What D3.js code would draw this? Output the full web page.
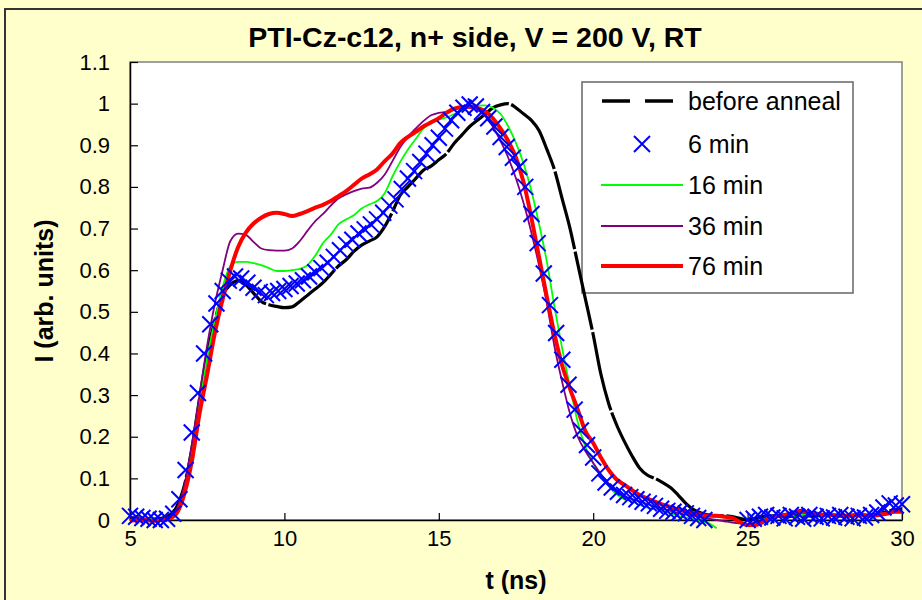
<!DOCTYPE html>
<html>
<head>
<meta charset="utf-8">
<script src="https://d3js.org/d3.v7.min.js"></script>
<style>
  body { margin: 0; background: #ffffcc; }
  svg { display: block; font-family: Arial, "Liberation Sans", sans-serif; }
</style>
</head>
<body>
<div class="chart"></div>
<script>
// time axis (ns) shared by the four line series
const lineTimes = [
  5, 5.25, 5.5, 5.75, 6, 6.25, 6.5, 6.75, 7, 7.25, 7.5, 7.75, 8, 8.25, 8.5, 8.75, 9, 9.25, 9.5, 9.75,
  10, 10.25, 10.5, 10.75, 11, 11.25, 11.5, 11.75, 12, 12.25, 12.5, 12.75, 13, 13.25, 13.5, 13.75, 14, 14.25, 14.5, 14.75,
  15, 15.25, 15.5, 15.75, 16, 16.25, 16.5, 16.75, 17, 17.25, 17.5, 17.75, 18, 18.25, 18.5, 18.75, 19, 19.25, 19.5, 19.75,
  20, 20.25, 20.5, 20.75, 21, 21.25, 21.5, 21.75, 22, 22.25, 22.5, 22.75, 23, 23.25, 23.5, 23.75, 24, 24.25, 24.5, 24.75,
  25, 25.25, 25.5, 25.75, 26, 26.25, 26.5, 26.75, 27, 27.25, 27.5, 27.75, 28, 28.25, 28.5, 28.75, 29, 29.25, 29.5, 29.75, 30
];

const beforeAnneal = [
  0.005, 0.005, 0.003, 0.002, 0.004, 0.01, 0.03, 0.08, 0.17, 0.29, 0.40, 0.48, 0.54, 0.565, 0.575, 0.565, 0.545, 0.525, 0.517, 0.513,
  0.51, 0.512, 0.525, 0.54, 0.555, 0.57, 0.59, 0.61, 0.625, 0.645, 0.66, 0.67, 0.68, 0.705, 0.74, 0.78, 0.80, 0.82, 0.84, 0.85,
  0.865, 0.88, 0.905, 0.925, 0.945, 0.96, 0.975, 0.99, 0.997, 1.0, 0.99, 0.975, 0.96, 0.935, 0.89, 0.84, 0.77, 0.70, 0.615, 0.53,
  0.445, 0.35, 0.28, 0.23, 0.19, 0.155, 0.125, 0.108, 0.1, 0.09, 0.078, 0.06, 0.04, 0.025, 0.017, 0.012, 0.01, 0.01, 0.008, 0.004,
  0.0, 0.004, 0.008, 0.01, 0.01, 0.008, 0.01, 0.012, 0.01, 0.01, 0.012, 0.012, 0.01, 0.01, 0.012, 0.01, 0.012, 0.015, 0.02, 0.025, 0.027
];

const min16 = [
  0.0, 0.003, 0.005, 0.003, 0.0, 0.005, 0.02, 0.07, 0.16, 0.28, 0.39, 0.48, 0.56, 0.61, 0.62, 0.62, 0.617, 0.612, 0.605, 0.598,
  0.598, 0.6, 0.603, 0.612, 0.635, 0.665, 0.685, 0.71, 0.722, 0.732, 0.748, 0.758, 0.766, 0.785, 0.825, 0.86, 0.89, 0.915, 0.94, 0.955,
  0.962, 0.967, 0.975, 0.985, 0.993, 0.995, 0.996, 0.99, 0.975, 0.945, 0.905, 0.855, 0.79, 0.71, 0.62, 0.51, 0.41, 0.32, 0.235, 0.175,
  0.137, 0.105, 0.082, 0.062, 0.05, 0.045, 0.036, 0.03, 0.026, 0.022, 0.016, 0.01, 0.006, 0.002, -0.003, -0.008, -0.02, null, null, null,
  -0.015, -0.01, 0.0, 0.008, 0.01, 0.012, 0.01, 0.012, 0.014, 0.012, 0.01, 0.012, 0.012, 0.01, 0.012, 0.014, 0.012, 0.015, 0.016, 0.018, 0.02
];

const min36 = [
  0.0, 0.002, 0.0, 0.0, 0.003, 0.008, 0.025, 0.08, 0.18, 0.30, 0.42, 0.52, 0.60, 0.67, 0.688, 0.685, 0.668, 0.652, 0.648, 0.647,
  0.647, 0.652, 0.67, 0.695, 0.718, 0.735, 0.755, 0.772, 0.782, 0.79, 0.796, 0.798, 0.81, 0.83, 0.862, 0.895, 0.92, 0.94, 0.958, 0.972,
  0.978, 0.98, 0.985, 0.99, 0.99, 0.985, 0.97, 0.945, 0.91, 0.87, 0.82, 0.76, 0.69, 0.61, 0.52, 0.415, 0.33, 0.255, 0.2, 0.165,
  0.137, 0.11, 0.088, 0.07, 0.058, 0.05, 0.045, 0.038, 0.032, 0.027, 0.022, 0.017, 0.013, 0.01, 0.006, 0.003, 0.0, -0.003, -0.006, -0.008,
  -0.01, -0.006, 0.0, 0.008, 0.012, 0.015, 0.02, 0.025, 0.02, 0.015, 0.012, 0.012, 0.012, 0.01, 0.01, 0.012, 0.012, 0.015, 0.018, 0.02, 0.02
];

const min76 = [
  -0.002, 0.0, 0.0, -0.002, 0.0, 0.003, 0.015, 0.06, 0.14, 0.255, 0.35, 0.45, 0.53, 0.60, 0.655, 0.69, 0.712, 0.726, 0.735, 0.738,
  0.735, 0.73, 0.735, 0.742, 0.75, 0.757, 0.766, 0.778, 0.79, 0.805, 0.82, 0.83, 0.842, 0.862, 0.88, 0.905, 0.92, 0.932, 0.945, 0.955,
  0.965, 0.978, 0.988, 0.992, 0.993, 0.99, 0.982, 0.965, 0.94, 0.91, 0.87, 0.81, 0.725, 0.63, 0.535, 0.445, 0.37, 0.315, 0.265, 0.213,
  0.185, 0.15, 0.12, 0.098, 0.085, 0.072, 0.06, 0.052, 0.044, 0.037, 0.031, 0.025, 0.02, 0.016, 0.013, 0.01, 0.01, 0.008, 0.005, -0.005,
  -0.012, -0.012, -0.005, 0.005, 0.01, 0.013, 0.018, 0.02, 0.017, 0.015, 0.012, 0.012, 0.01, 0.01, 0.012, 0.012, 0.01, 0.012, 0.015, 0.02, 0.02
];

// the 6 min series is shown as markers only, sampled every 0.2 ns
const markerTimes = [
  5, 5.2, 5.4, 5.6, 5.8, 6, 6.2, 6.4, 6.6, 6.8, 7, 7.2, 7.4, 7.6, 7.8, 8, 8.2, 8.4, 8.6, 8.8,
  9, 9.2, 9.4, 9.6, 9.8, 10, 10.2, 10.4, 10.6, 10.8, 11, 11.2, 11.4, 11.6, 11.8, 12, 12.2, 12.4, 12.6, 12.8,
  13, 13.2, 13.4, 13.6, 13.8, 14, 14.2, 14.4, 14.6, 14.8, 15, 15.2, 15.4, 15.6, 15.8, 16, 16.2, 16.4, 16.6, 16.8,
  17, 17.2, 17.4, 17.6, 17.8, 18, 18.2, 18.4, 18.6, 18.8, 19, 19.2, 19.4, 19.6, 19.8, 20, 20.2, 20.4, 20.6, 20.8,
  21, 21.2, 21.4, 21.6, 21.8, 22, 22.2, 22.4, 22.6, 22.8, 23, 23.2, 23.4, 23.6, 23.8, 24, 24.2, 24.4, 24.6, 24.8,
  25, 25.2, 25.4, 25.6, 25.8, 26, 26.2, 26.4, 26.6, 26.8, 27, 27.2, 27.4, 27.6, 27.8, 28, 28.2, 28.4, 28.6, 28.8,
  29, 29.2, 29.4, 29.6, 29.8, 30
];

const min6 = [
  0.01, 0.008, 0.005, 0.003, 0.0, 0.0, 0.003, 0.015, 0.05, 0.12, 0.21, 0.305, 0.40, 0.47, 0.52, 0.55, 0.575, 0.585, 0.58, 0.57,
  0.558, 0.548, 0.54, 0.545, 0.55, 0.555, 0.562, 0.568, 0.576, 0.585, 0.595, 0.605, 0.618, 0.632, 0.648, 0.662, 0.673, 0.688, 0.698, 0.71,
  0.722, 0.738, 0.755, 0.77, 0.795, 0.82, 0.838, 0.86, 0.88, 0.9, 0.918, 0.94, 0.96, 0.978, 0.99, 0.998, 0.993, 0.98, 0.965, 0.945,
  0.92, 0.896, 0.87, 0.848, 0.80, 0.735, 0.665, 0.592, 0.516, 0.449, 0.385, 0.325, 0.265, 0.215, 0.18, 0.15, 0.112, 0.09, 0.078, 0.068,
  0.06, 0.055, 0.05, 0.044, 0.04, 0.034, 0.027, 0.022, 0.02, 0.018, 0.016, 0.01, 0.005, 0.0, null, null, null, null, null, null,
  0.0, 0.003, 0.008, 0.012, 0.006, 0.01, 0.004, 0.012, 0.008, 0.003, 0.012, 0.008, 0.004, 0.01, 0.006, 0.012, 0.008, 0.004, 0.01, 0.006,
  0.012, 0.018, 0.03, 0.04, 0.035, 0.038
];

const xTicks = [5, 10, 15, 20, 25, 30];
const yTicks = [0, 0.1, 0.2, 0.3, 0.4, 0.5, 0.6, 0.7, 0.8, 0.9, 1, 1.1];
const legendLabels = ["before anneal", "6 min", "16 min", "36 min", "76 min"];
const chartTitle = "PTI-Cz-c12, n+ side, V = 200 V, RT";
const xTitle = "t (ns)";
const yTitle = "I (arb. units)";

const lineSeries = [
  { name: "before anneal", values: beforeAnneal, color: "#000000", width: 3.2, dash: "80,2.5" },
  { name: "16 min", values: min16, color: "#00ff00", width: 1.8, dash: null },
  { name: "36 min", values: min36, color: "#800080", width: 1.8, dash: null },
  { name: "76 min", values: min76, color: "#ff0000", width: 4, dash: null }
];

const crossPath = "M-8,-8L8,8M-8,8L8,-8";

function setupSvg() {
  const W = 922, H = 600;
  const plot = { left: 130, top: 62, right: 902, bottom: 520 };

  const svg = d3.select(".chart")
    .append("svg")
    .attr("width", W)
    .attr("height", H);

  svg.append("rect")
    .attr("width", W).attr("height", H)
    .attr("fill", "#ffffcc");

  // chart area frame (runs past the right and bottom edge of the picture)
  svg.append("rect")
    .attr("x", 5).attr("y", 9)
    .attr("width", 960).attr("height", 640)
    .attr("fill", "#ffffcc")
    .attr("stroke", "#333333")
    .attr("stroke-width", 2);

  svg.append("rect")
    .attr("x", plot.left).attr("y", plot.top)
    .attr("width", plot.right - plot.left)
    .attr("height", plot.bottom - plot.top)
    .attr("fill", "#ffffff")
    .attr("stroke", "#808080")
    .attr("stroke-width", 1.5);

  return { svg, plot };
}

function setupScales(plot) {
  const x = d3.scaleLinear().domain([5, 30]).range([plot.left, plot.right]);
  const y = d3.scaleLinear().domain([0, 1.1]).range([plot.bottom, plot.top]);
  return { x, y };
}

function drawAxes(svg, x, y, plot) {
  const yAxis = svg.append("g")
    .attr("transform", `translate(${plot.left},0)`)
    .call(d3.axisLeft(y)
      .tickValues(yTicks)
      .tickFormat(d3.format("~g"))
      .tickSizeInner(-8)
      .tickSizeOuter(0)
      .tickPadding(20));

  const xAxis = svg.append("g")
    .attr("transform", `translate(0,${plot.bottom})`)
    .call(d3.axisBottom(x)
      .tickValues(xTicks)
      .tickFormat(d3.format("d"))
      .tickSizeInner(-7)
      .tickSizeOuter(0)
      .tickPadding(10));

  [xAxis, yAxis].forEach(g => {
    g.select(".domain").attr("stroke", "#000").attr("stroke-width", 1.5);
    g.selectAll(".tick line").attr("stroke", "#000").attr("stroke-width", 1.2);
    g.selectAll(".tick text")
      .attr("fill", "#000")
      .style("font-family", "Arial, 'Liberation Sans', sans-serif")
      .style("font-size", "22px");
  });

  svg.append("text")
    .attr("x", 475)
    .attr("y", 47)
    .attr("text-anchor", "middle")
    .style("font-size", "28.5px")
    .style("font-weight", "bold")
    .text(chartTitle);

  svg.append("text")
    .attr("x", (plot.left + plot.right) / 2)
    .attr("y", 589)
    .attr("text-anchor", "middle")
    .style("font-size", "25px")
    .style("font-weight", "bold")
    .text(xTitle);

  svg.append("text")
    .attr("transform", `translate(53,${(plot.top + plot.bottom) / 2}) rotate(-90)`)
    .attr("text-anchor", "middle")
    .style("font-size", "25px")
    .style("font-weight", "bold")
    .text(yTitle);
}

function createLines(svg, x, y) {
  lineSeries.forEach(s => {
    const pts = lineTimes.map((t, i) => ({ t: t, v: s.values[i] }));
    svg.append("path")
      .datum(pts)
      .attr("class", "line")
      .attr("fill", "none")
      .attr("stroke", s.color)
      .attr("stroke-width", s.width)
      .attr("stroke-dasharray", s.dash)
      .attr("stroke-linejoin", "round")
      .attr("d", d3.line()
        .defined(d => d.v !== null)
        .curve(d3.curveMonotoneX)
        .x(d => x(d.t))
        .y(d => y(d.v)));
  });
}

function createMarkers(svg, x, y) {
  const pts = markerTimes
    .map((t, i) => ({ t: t, v: min6[i] }))
    .filter(d => d.v !== null);

  svg.append("g")
    .selectAll("path")
    .data(pts)
    .join("path")
    .attr("transform", d => `translate(${x(d.t)},${y(d.v)})`)
    .attr("d", crossPath)
    .attr("fill", "none")
    .attr("stroke", "#0000ff")
    .attr("stroke-width", 2);
}

function drawLegend(svg) {
  const box = { x: 582, y: 82, w: 271, h: 211 };
  const rows = [101, 144, 185, 226, 266];

  svg.append("rect")
    .attr("x", box.x).attr("y", box.y)
    .attr("width", box.w).attr("height", box.h)
    .attr("fill", "#ffffff")
    .attr("stroke", "#666666")
    .attr("stroke-width", 1.5);

  const g = svg.append("g");

  // before anneal
  g.append("line")
    .attr("x1", 602).attr("x2", 673)
    .attr("y1", rows[0]).attr("y2", rows[0])
    .attr("stroke", "#000").attr("stroke-width", 3.5)
    .attr("stroke-dasharray", "28,15");

  // 6 min
  g.append("path")
    .attr("transform", `translate(642,${rows[1]})`)
    .attr("d", crossPath)
    .attr("fill", "none")
    .attr("stroke", "#0000ff")
    .attr("stroke-width", 2);

  lineSeries.slice(1).forEach((s, i) => {
    g.append("line")
      .attr("x1", 601).attr("x2", 683)
      .attr("y1", rows[i + 2]).attr("y2", rows[i + 2])
      .attr("stroke", s.color)
      .attr("stroke-width", s.width);
  });

  g.selectAll("text")
    .data(legendLabels)
    .join("text")
    .attr("x", 688)
    .attr("y", (d, i) => rows[i])
    .attr("dy", "0.35em")
    .style("font-size", "25px")
    .text(d => d);
}

function createChart() {
  const { svg, plot } = setupSvg();
  const { x, y } = setupScales(plot);

  drawAxes(svg, x, y, plot);
  drawLegend(svg);
  createLines(svg, x, y);
  createMarkers(svg, x, y);
}

createChart();
</script>
</body>
</html>
